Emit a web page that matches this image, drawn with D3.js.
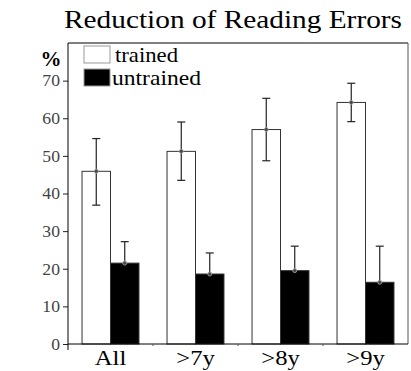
<!DOCTYPE html>
<html>
<head>
<meta charset="utf-8">
<script src="https://cdn.jsdelivr.net/npm/d3@7"></script>
<style>
  body { margin: 0; background: #fff; }
</style>
</head>
<body>
<div id="chart"></div>
<script>
// chart values
const groups = ['All', '>7y', '>8y', '>9y'];
const seriesNames = ['trained', 'untrained'];
const trainedMean = [45.9, 51.2, 57.0, 64.2];
const trainedHigh = [54.6, 59.0, 65.3, 69.3];
const trainedLow = [36.9, 43.5, 48.7, 59.1];
const untrainedMean = [21.5, 18.6, 19.5, 16.4];
const untrainedHigh = [27.2, 24.2, 26.0, 26.0];
const yTicks = [0, 10, 20, 30, 40, 50, 60, 70];

const serifFont = "'Liberation Serif'";
const width = 411, height = 371;
const margin = {top: 43, right: 3, bottom: 27, left: 68};

const svg = d3.select('#chart')
    .append('svg')
    .attr('width', width)
    .attr('height', height);

const x = d3.scaleBand()
    .domain(groups)
    .range([margin.left, width - margin.right])
    .paddingInner(0.33)
    .paddingOuter(0.165);

const xSub = d3.scaleBand()
    .domain(seriesNames)
    .range([0, x.bandwidth()]);

const y = d3.scaleLinear()
    .domain([0, 80])
    .range([height - margin.bottom, margin.top]);

const fills = {trained: '#fff', untrained: '#000'};

// flatten into rows; the lower whisker of the black bars is hidden, so it stops at the mean
const rows = [];
groups.forEach((g, i) => {
    rows.push({group: g, series: 'trained', mean: trainedMean[i], hi: trainedHigh[i], lo: trainedLow[i]});
    rows.push({group: g, series: 'untrained', mean: untrainedMean[i], hi: untrainedHigh[i], lo: untrainedMean[i]});
});

// bars
svg.selectAll('.bar')
    .data(rows)
    .enter().append('rect')
    .attr('class', 'bar')
    .attr('x', d => x(d.group) + xSub(d.series))
    .attr('y', d => y(d.mean))
    .attr('width', xSub.bandwidth())
    .attr('height', d => y(0) - y(d.mean))
    .attr('fill', d => fills[d.series])
    .attr('stroke', '#333')
    .attr('stroke-width', 1);

// error bars
const cx = d => x(d.group) + xSub(d.series) + xSub.bandwidth() / 2;
const err = svg.append('g').attr('stroke', '#222').attr('stroke-width', 1.2);
err.selectAll('.whisker')
    .data(rows)
    .enter().append('line')
    .attr('x1', cx).attr('x2', cx)
    .attr('y1', d => y(d.lo)).attr('y2', d => y(d.hi));
err.selectAll('.capHi')
    .data(rows)
    .enter().append('line')
    .attr('x1', d => cx(d) - 4).attr('x2', d => cx(d) + 4)
    .attr('y1', d => y(d.hi)).attr('y2', d => y(d.hi));
err.selectAll('.capLo')
    .data(rows.filter(d => d.series === 'trained'))
    .enter().append('line')
    .attr('x1', d => cx(d) - 4).attr('x2', d => cx(d) + 4)
    .attr('y1', d => y(d.lo)).attr('y2', d => y(d.lo));
svg.selectAll('.dot')
    .data(rows)
    .enter().append('circle')
    .attr('cx', cx)
    .attr('cy', d => y(d.mean))
    .attr('r', 2)
    .attr('fill', '#444')
    .attr('stroke', '#aaa')
    .attr('stroke-width', 0.8);

// frame: top and right
svg.append('line')
    .attr('x1', margin.left).attr('x2', width - margin.right)
    .attr('y1', y(80)).attr('y2', y(80))
    .attr('stroke', '#000');
svg.append('line')
    .attr('x1', width - margin.right).attr('x2', width - margin.right)
    .attr('y1', y(80)).attr('y2', y(0))
    .attr('stroke', '#555');

// y axis
const yAxis = svg.append('g')
    .attr('transform', `translate(${margin.left},0)`)
    .call(d3.axisLeft(y).tickValues(yTicks).tickSize(5).tickPadding(3).tickSizeOuter(0));
yAxis.select('.domain').remove();
yAxis.append('line')
    .attr('y1', y(80)).attr('y2', y(0) + 6)
    .attr('stroke', '#000');
yAxis.selectAll('.tick line').attr('stroke', '#222');
yAxis.selectAll('.tick text')
    .attr('x', 0)
    .attr('transform', 'translate(-8,0) scale(1.07,1)')
    .attr('fill', '#444')
    .style('font-family', serifFont)
    .style('font-size', '16.5px');

// x axis
const xAxis = svg.append('g')
    .attr('transform', `translate(0,${y(0)})`)
    .call(d3.axisBottom(x).tickSize(0).tickPadding(8));
xAxis.select('.domain').remove();
xAxis.append('line')
    .attr('x1', margin.left).attr('x2', width - margin.right)
    .attr('stroke', '#000');
xAxis.selectAll('.tick text')
    .attr('fill', '#000')
    .attr('dy', '0.6em')
    .attr('transform', 'scale(1.12,1)')
    .style('font-family', serifFont)
    .style('font-size', '22px');
// small marks between groups
xAxis.selectAll('.sep')
    .data(groups.slice(1))
    .enter().append('line')
    .attr('x1', d => x(d) - x.step() * x.paddingInner() / 2)
    .attr('x2', d => x(d) - x.step() * x.paddingInner() / 2)
    .attr('y1', 0).attr('y2', 2)
    .attr('stroke', '#555');

// percent label
svg.append('text')
    .attr('x', 51)
    .attr('y', 66)
    .attr('text-anchor', 'middle')
    .style('font-family', serifFont)
    .style('font-size', '21px')
    .style('font-weight', 'bold')
    .text('%');

// title
svg.append('text')
    .attr('x', 64)
    .attr('y', 28)
    .attr('textLength', 338)
    .attr('lengthAdjust', 'spacingAndGlyphs')
    .style('font-family', serifFont)
    .style('font-size', '26px')
    .text('Reduction of Reading Errors');

// legend
const legendLen = {trained: 63, untrained: 89};
const legend = svg.append('g');
seriesNames.forEach((s, i) => {
    legend.append('rect')
        .attr('x', 84)
        .attr('y', 46 + i * 23)
        .attr('width', 26)
        .attr('height', 17)
        .attr('fill', fills[s])
        .attr('stroke', '#999');
    legend.append('text')
        .attr('x', i === 0 ? 115 : 112)
        .attr('y', 62 + i * 23)
        .attr('textLength', legendLen[s])
        .attr('lengthAdjust', 'spacingAndGlyphs')
        .style('font-family', serifFont)
        .style('font-size', '22px')
        .text(s);
});
</script>
</body>
</html>
